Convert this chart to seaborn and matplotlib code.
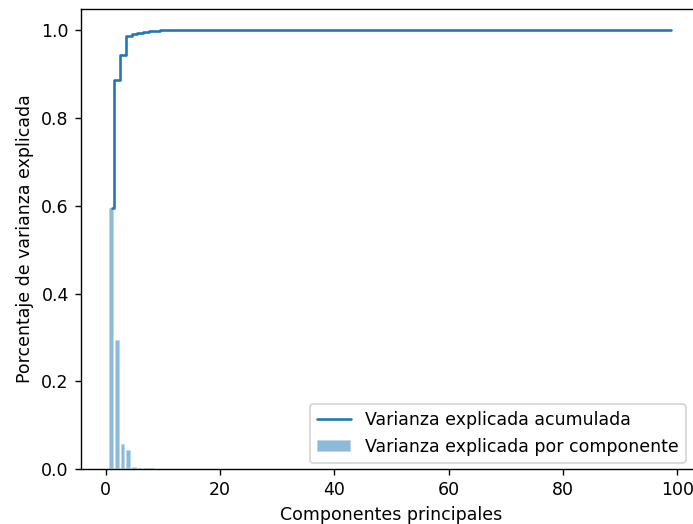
import numpy as np
import seaborn as sns
import matplotlib.pyplot as plt

# explained variance ratio per principal component
var_head = [0.594, 0.293, 0.057, 0.044, 0.004, 0.003, 0.002, 0.0015, 0.001, 0.0005]
var_tail = [0.0] * 89
var_ratio = np.array(var_head + var_tail)
components = np.arange(1, len(var_ratio) + 1)
cum_var = np.cumsum(var_ratio)

sns.set_style("ticks", {"text.color": "black", "axes.labelcolor": "black",
                        "xtick.color": "black", "ytick.color": "black",
                        "axes.edgecolor": "black"})
plt.rcParams['font.family'] = ['DejaVu Sans']

dpi = 125
fig = plt.figure(figsize=(693 / dpi, 524 / dpi), dpi=dpi)
ax = fig.add_axes([81 / 693, 1 - 469 / 524, (702 - 81) / 693, (469 - 8.5) / 524])
ax.bar(components, var_ratio, alpha=0.5, align='center',
       label='Varianza explicada por componente')
ax.step(components, cum_var, where='mid', label='Varianza explicada acumulada')
ax.set_ylabel('Porcentaje de varianza explicada')
ax.set_xlabel('Componentes principales')
ax.legend(loc='lower right', bbox_to_anchor=(0.974, 0.013), borderaxespad=0)
for s in ax.spines.values():
    s.set_visible(True)
plt.savefig("out.png", dpi=dpi)
